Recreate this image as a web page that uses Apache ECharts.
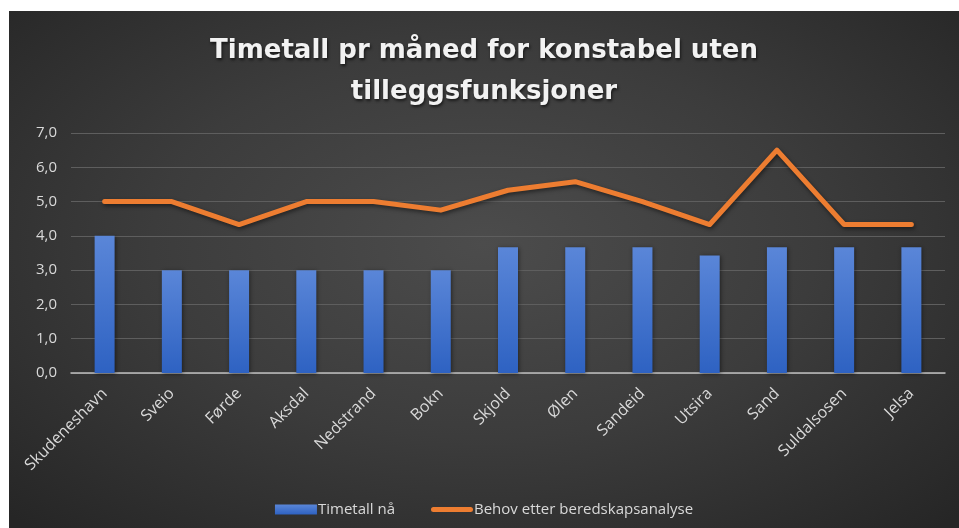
<!DOCTYPE html>
<html>
<head>
<meta charset="utf-8">
<script src="https://cdn.jsdelivr.net/npm/echarts@6/dist/echarts.min.js"></script>
<style>
  html, body { margin: 0; padding: 0; background: #ffffff; }
  #main {
    position: absolute; left: 9px; top: 11px; width: 950px; height: 517px;
    background: radial-gradient(ellipse 70% 75% at 50% 45%, #4c4c4c 0%, #3c3c3c 50%, #262626 100%);
  }
</style>
</head>
<body>
<div id="main"></div>
<script>
const categories = ['Skudeneshavn', 'Sveio', 'Førde', 'Aksdal', 'Nedstrand', 'Bokn', 'Skjold', 'Ølen', 'Sandeid', 'Utsira', 'Sand', 'Suldalsosen', 'Jelsa'];
const timetallNa = [4.0, 3.0, 3.0, 3.0, 3.0, 3.0, 3.67, 3.67, 3.67, 3.43, 3.67, 3.67, 3.67];
const behov = [5.0, 5.0, 4.33, 5.0, 5.0, 4.75, 5.33, 5.58, 5.0, 4.33, 6.5, 4.33, 4.33];
const seriesNames = ['Timetall nå', 'Behov etter beredskapsanalyse'];
const titleText = 'Timetall pr måned for konstabel uten\ntilleggsfunksjoner';

const font = '"Open Sans", "DejaVu Sans", sans-serif';
const chart = echarts.init(document.getElementById('main'));
chart.setOption({
  animation: false,
  backgroundColor: 'transparent',
  title: {
    text: titleText,
    left: 'center',
    top: 15,
    textStyle: {
      color: '#f2f2f2',
      fontFamily: '"DejaVu Sans", sans-serif',
      fontWeight: 'bold',
      fontSize: 26,
      lineHeight: 41,
      textShadowColor: 'rgba(0,0,0,0.6)',
      textShadowBlur: 3,
      textShadowOffsetX: 1,
      textShadowOffsetY: 2,
    },
  },
  legend: {
    bottom: 6,
    left: 'center',
    itemGap: 36,
    itemWidth: 42,
    itemHeight: 10,
    textStyle: { color: '#d9d9d9', fontFamily: font, fontSize: 15, padding: [0, 0, 0, -4] },
    data: [
      { name: seriesNames[0], icon: 'rect' },
      { name: seriesNames[1], icon: 'path://M2.5,0 L39.5,0 A2.5,2.5 0 0 1 39.5,5 L2.5,5 A2.5,2.5 0 0 1 2.5,0 Z' },
    ],
  },
  grid: {
    left: 62,
    right: 14,
    top: 122,
    bottom: 155,
  },
  xAxis: {
    type: 'category',
    data: categories,
    axisLine: { lineStyle: { color: '#bfbfbf', width: 1.5 } },
    axisTick: { show: false },
    axisLabel: {
      rotate: 45,
      color: '#d9d9d9',
      fontFamily: font,
      fontSize: 16,
      margin: 18,
      interval: 0,
    },
  },
  yAxis: {
    type: 'value',
    min: 0,
    max: 7,
    interval: 1,
    axisLine: { show: false },
    axisTick: { show: false },
    splitLine: { lineStyle: { color: '#5e5e5e', width: 1 } },
    axisLabel: {
      color: '#d9d9d9',
      fontFamily: font,
      fontSize: 15,
      margin: 14,
      formatter: (v) => v.toFixed(1).replace('.', ','),
    },
  },
  series: [
    {
      name: seriesNames[0],
      type: 'bar',
      data: timetallNa,
      barWidth: 20,
      itemStyle: {
        color: new echarts.graphic.LinearGradient(0, 0, 0, 1, [
          { offset: 0, color: '#5a86d8' },
          { offset: 1, color: '#2e62c2' },
        ]),
        shadowColor: 'rgba(0,0,0,0.45)',
        shadowBlur: 4,
        shadowOffsetX: 1,
        shadowOffsetY: 1,
      },
    },
    {
      name: seriesNames[1],
      type: 'line',
      data: behov,
      symbol: 'none',
      color: '#ed7d31',
      lineStyle: {
        color: '#ed7d31',
        width: 5,
        cap: 'round',
        join: 'round',
        shadowColor: 'rgba(0,0,0,0.5)',
        shadowBlur: 4,
        shadowOffsetX: 1,
        shadowOffsetY: 2,
      },
    },
  ],
});
</script>
</body>
</html>
